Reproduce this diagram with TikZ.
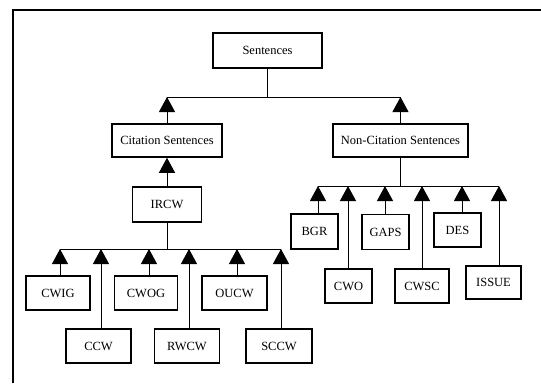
\documentclass[tikz,border=0pt]{standalone}
\usepackage{fontspec}
\setmainfont{Liberation Serif}
\usetikzlibrary{arrows.meta}
\begin{document}
\begin{tikzpicture}[x=1pt,y=-1pt,
    catbox/.style={draw=black, line width=1.5pt, minimum height=34pt, inner sep=2pt, font=\fontsize{12.5}{14}\selectfont},
    uparrow/.style={line width=1pt, -{Triangle[width=16pt,length=15pt]}},
    bar/.style={line width=1pt}
    ]
    \useasboundingbox (0,0) rectangle (541,383);
    \draw [line width=1.3pt] (13,383) -- (13,10) -- (541,10);

     \node [catbox,minimum width=109pt,minimum height=35pt] (sent) at (267.5,50.5) {\raisebox{-4pt}{Sentences}};
     \node [catbox,minimum width=110pt,minimum height=33pt] (cit) at (167,140.5) {Citation Sentences};
     \node [catbox,minimum width=135pt,minimum height=33pt] (non) at (400.5,140.5) {Non-Citation Sentences};
     \node [catbox,minimum width=69pt,minimum height=35pt] (ircw) at (167,204.5) {IRCW};

    \node [catbox,minimum width=64pt] (cwig) at (58,293) {CWIG};
    \node [catbox,minimum width=65pt] (ccw) at (98.5,346) {CCW};
    \node [catbox,minimum width=63pt] (cwog) at (146,293) {CWOG};
    \node [catbox,minimum width=65pt] (rwcw) at (187,346) {RWCW};
    \node [catbox,minimum width=65pt] (oucw) at (234.5,293) {OUCW};
    \node [catbox,minimum width=66pt] (sccw) at (279,346) {SCCW};

    \node [catbox,minimum width=47pt,minimum height=35pt] (bgr) at (314.5,231.5) {BGR};
    \node [catbox,minimum width=47pt] (cwo) at (348.5,286) {CWO};
    \node [catbox,minimum width=47pt,minimum height=35pt] (gaps) at (385.5,232) {GAPS};
    \node [catbox,minimum width=54pt] (cwsc) at (422,286) {CWSC};
    \node [catbox,minimum width=47pt] (des) at (457.5,230) {DES};
    \node [catbox,minimum width=55pt,minimum height=33pt] (issue) at (493.5,282.5) {ISSUE};

    % junctions on the bars
    \coordinate (sj) at (267.5,97);
    \coordinate (ij) at (167,249);
    \coordinate (nj) at (400.5,186);
    \coordinate (cwigj) at (60,249);
    \coordinate (ccwj) at (101,249);
    \coordinate (cwogj) at (149,249);
    \coordinate (rwcwj) at (189,249);
    \coordinate (oucwj) at (237,249);
    \coordinate (sccwj) at (281,249);
    \coordinate (bgrj) at (318,186);
    \coordinate (cwoj) at (348,186);
    \coordinate (gapsj) at (385,186);
    \coordinate (cwscj) at (422,186);
    \coordinate (desj) at (462,186);
    \coordinate (issuej) at (499,186);

    \draw [bar] (sent) -- (sj);
    \draw [bar] (cit |- sj) -- (non |- sj);
    \draw [uparrow] (cit) -- (cit |- sj);
    \draw [uparrow] (non) -- (non |- sj);

    \draw [uparrow] (ircw) -- (cit);
    \draw [bar] (ircw) -- (ij);
    \draw [bar] (cwigj) -- (sccwj);
    \draw [uparrow] (cwig.north -| cwigj) -- (cwigj);
    \draw [uparrow] (ccw.north -| ccwj) -- (ccwj);
    \draw [uparrow] (cwog.north -| cwogj) -- (cwogj);
    \draw [uparrow] (rwcw.north -| rwcwj) -- (rwcwj);
    \draw [uparrow] (oucw.north -| oucwj) -- (oucwj);
    \draw [uparrow] (sccw.north -| sccwj) -- (sccwj);

    \draw [bar] (non) -- (nj);
    \draw [bar] (bgrj) -- (issuej);
    \draw [uparrow] (bgr.north -| bgrj) -- (bgrj);
    \draw [uparrow] (cwo.north -| cwoj) -- (cwoj);
    \draw [uparrow] (gaps.north -| gapsj) -- (gapsj);
    \draw [uparrow] (cwsc.north -| cwscj) -- (cwscj);
    \draw [uparrow] (des.north -| desj) -- (desj);
    \draw [uparrow] (issue.north -| issuej) -- (issuej);

\end{tikzpicture}
\end{document}
